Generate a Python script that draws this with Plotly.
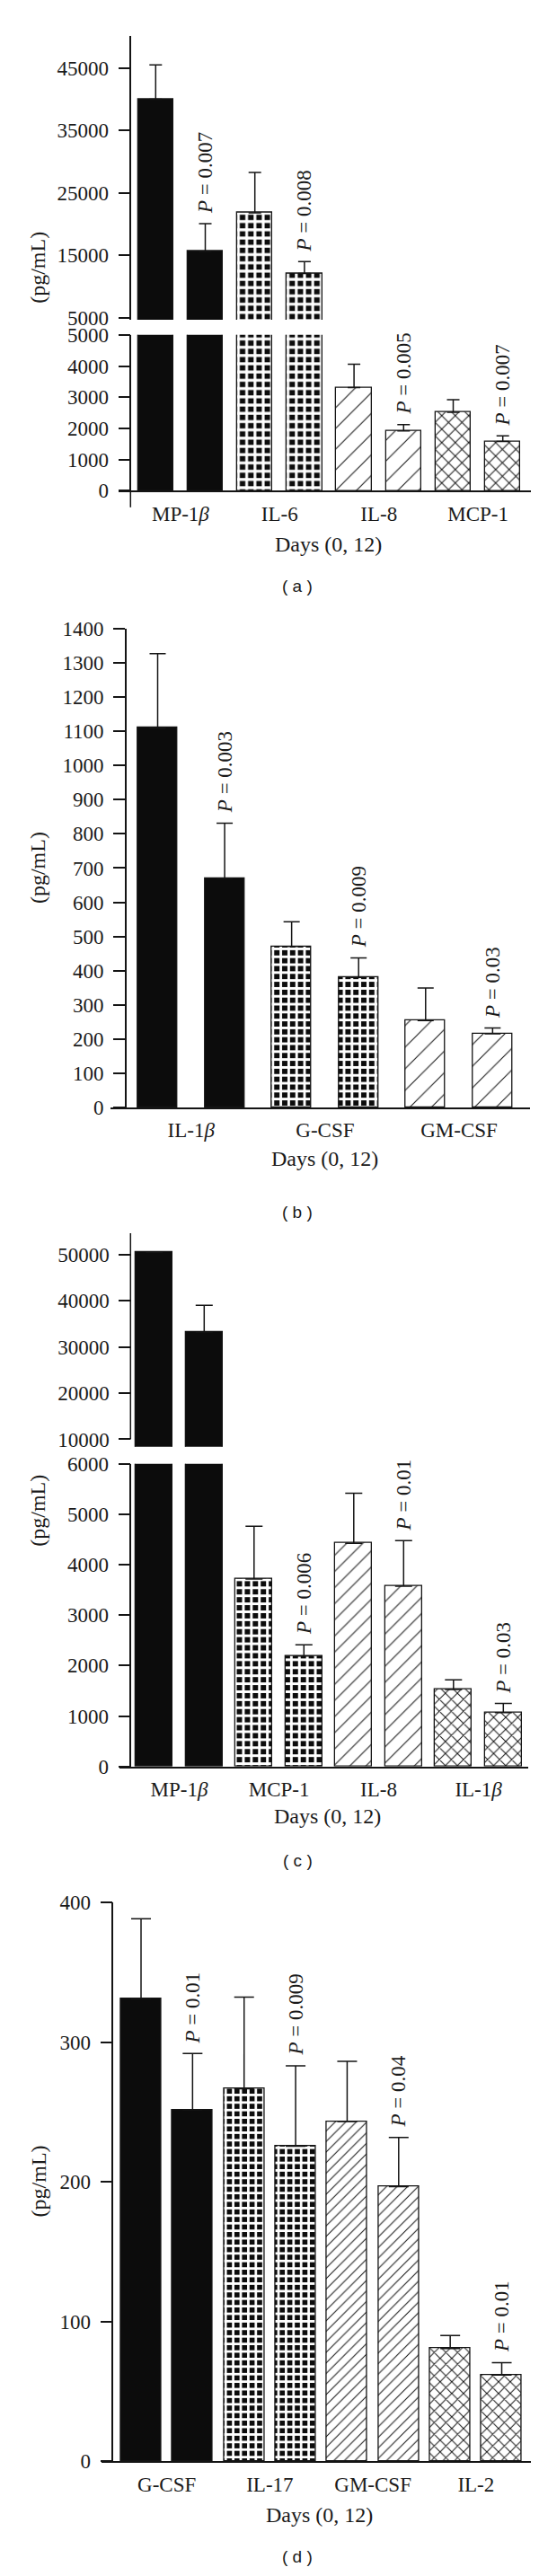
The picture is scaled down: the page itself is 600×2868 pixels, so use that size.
import plotly.graph_objects as go

W, H = 600, 2868
SERIF = "Liberation Serif"
SANS = "Liberation Sans"
INK = "#141414"

# ---------------- data ----------------
# panel (a)
a_labels = ["MP-1<i>β</i>", "IL-6", "IL-8", "MCP-1"]
a_day0 = [40000, 21800, 3310, 2520]
a_day0_sd = [5480, 6480, 750, 400]
a_day12 = [15630, 12110, 1920, 1580]
a_day12_sd = [4450, 1920, 200, 180]
a_p = ["0.007", "0.008", "0.005", "0.007"]

# panel (b)
b_labels = ["IL-1<i>β</i>", "G-CSF", "GM-CSF"]
b_day0 = [1110, 471, 254]
b_day0_sd = [217, 72, 95]
b_day12 = [670, 380, 215]
b_day12_sd = [161, 57, 17]
b_p = ["0.003", "0.009", "0.03"]

# panel (c)
c_labels = ["MP-1<i>β</i>", "MCP-1", "IL-8", "IL-1<i>β</i>"]
c_day0 = [50500, 3716, 4426, 1527]
c_day0_sd = [0, 1048, 993, 189]
c_day12 = [33250, 2189, 3574, 1068]
c_day12_sd = [5790, 223, 906, 182]
c_p = [None, "0.006", "0.01", "0.03"]

# panel (d)
d_labels = ["G-CSF", "IL-17", "GM-CSF", "IL-2"]
d_day0 = [331, 266.7, 243.3, 80.8]
d_day0_sd = [57.5, 65.6, 43.1, 9.2]
d_day12 = [251.6, 225.6, 196.7, 61.7]
d_day12_sd = [40.4, 57.5, 35.2, 8.9]
d_p = ["0.01", "0.009", "0.04", "0.01"]

x_title = "Days (0, 12)"
y_title = "(pg/mL)"


def py(p):
    return 1 - p / H


def px(p):
    return p / W


BLACK = dict(color="#0c0c0c", shape="", fg="#0c0c0c", size=8, sol=0.3)


def grid(size, sol):
    return dict(color="#0c0c0c", shape="+", fg="white", size=size, sol=sol)


def hatch(shape, size, sol):
    return dict(color="white", shape=shape, fg="#111111", size=size, sol=sol)


panels = [
    dict(name="( a )", labels=a_labels, d0=a_day0, s0=a_day0_sd, d12=a_day12, s12=a_day12_sd, p=a_p,
         fills=[BLACK, grid(9.2, 0.55), hatch("/", 16.3, 0.065), hatch("x", 10.6, 0.18)],
         L=124, R=582.7, yx=137.3, c0=165.3, step=55.2, bw=0.716, cap=7,
         lower=dict(dom=(355.9, 531.0), rng=(0, 5000), ticks=[0, 1000, 2000, 3000, 4000, 5000]),
         upper=dict(dom=(19.8, 338.9), rng=(4715, 50171), ticks=[5000, 15000, 25000, 35000, 45000]),
         ext=549.6, upline=None, ytitle=280.7, xtitle=(357.5, 591), cap_y=638),
    dict(name="( b )", labels=b_labels, d0=b_day0, s0=b_day0_sd, d12=b_day12, s12=b_day12_sd, p=b_p,
         fills=[BLACK, grid(8.8, 0.54), hatch("/", 17, 0.06)],
         L=115.4, R=582, yx=131.9, c0=167.5, step=74.57, bw=0.59, cap=9,
         lower=dict(dom=(686, 1223.6), rng=(0, 1400), ticks=list(range(0, 1401, 100))),
         upper=None, ext=None, upline=None, ytitle=954.8, xtitle=(353, 1281), cap_y=1341),
    dict(name="( c )", labels=c_labels, d0=c_day0, s0=c_day0_sd, d12=c_day12, s12=c_day12_sd, p=c_p,
         fills=[BLACK, grid(8.9, 0.55), hatch("/", 12.7, 0.08), hatch("x", 9.5, 0.2)],
         L=125, R=580, yx=137.3, c0=163.8, step=55.5, bw=0.74, cap=9.5,
         lower=dict(dom=(1624, 1963.8), rng=(0, 6000), ticks=[0, 1000, 2000, 3000, 4000, 5000, 6000]),
         upper=dict(dom=(1365, 1604.8), rng=(8380, 54630), ticks=[10000, 20000, 30000, 40000, 50000]),
         ext=None, upline=10000, ytitle=1676.8, xtitle=(356.3, 2019.5), cap_y=2070),
    dict(name="( d )", labels=d_labels, d0=d_day0, s0=d_day0_sd, d12=d_day12, s12=d_day12_sd, p=d_p,
         fills=[BLACK, grid(8.4, 0.54), hatch("/", 8.3, 0.12), hatch("x", 9.2, 0.2)],
         L=104.6, R=582.7, yx=117.3, c0=149, step=57.36, bw=0.785, cap=11,
         lower=dict(dom=(2116.7, 2744.2), rng=(0, 400), ticks=[0, 100, 200, 300, 400]),
         upper=None, ext=None, upline=None, ytitle=2430, xtitle=(347, 2804), cap_y=2851),
]

fig = go.Figure()
layout = dict(width=W, height=H, margin=dict(l=0, r=0, t=0, b=0), autosize=False,
              paper_bgcolor="white", plot_bgcolor="rgba(0,0,0,0)", showlegend=False,
              bargap=0, barmode="overlay")
annotations = []
shapes = []

tickfont = dict(family=SERIF, size=23, color="#1a1a1a")

yi = 0
for pi, P in enumerate(panels):
    xn = "" if pi == 0 else str(pi + 1)
    xname = "xaxis" + xn
    xref = "x" + xn
    n = len(P["labels"])
    r0 = (P["L"] - P["c0"]) / P["step"]
    r1 = (P["R"] - P["c0"]) / P["step"]

    segs = [P["lower"]] + ([P["upper"]] if P["upper"] else [])
    yrefs = []
    for si, seg in enumerate(segs):
        yi += 1
        yn = "" if yi == 1 else str(yi)
        yname = "yaxis" + yn
        yref = "y" + yn
        yrefs.append(yref)
        top, bot = seg["dom"]
        show_line = True
        if si == 1 and P["upline"] is not None:
            show_line = False
        layout[yname] = dict(domain=[py(bot), py(top)], range=list(seg["rng"]), anchor="free",
                             position=px(P["yx"]), tickmode="array", tickvals=seg["ticks"],
                             ticktext=[str(t) for t in seg["ticks"]], ticks="outside", ticklen=13,
                             tickwidth=1.5, tickcolor=INK, showline=show_line, linecolor=INK,
                             linewidth=1.5, showgrid=False, zeroline=False, tickfont=tickfont,
                             ticklabelstandoff=6, fixedrange=True)
        if si == 1 and P["upline"] is not None:
            shapes.append(dict(type="line", xref="paper", yref=yref, x0=px(P["yx"]), x1=px(P["yx"]),
                               y0=P["upline"], y1=seg["rng"][1], line=dict(color=INK, width=1.5)))
        # bars for each group
        for g in range(n):
            f = P["fills"][g]
            xs = [2 * g, 2 * g + 1]
            ys = [P["d0"][g], P["d12"][g]]
            es = [P["s0"][g], P["s12"][g]]
            marker = dict(color=f["color"], line=dict(color=INK, width=1.3))
            if f["shape"]:
                marker["pattern"] = dict(shape=f["shape"], fillmode="overlay", fgcolor=f["fg"],
                                         fgopacity=1, size=f["size"], solidity=f["sol"])
            fig.add_trace(go.Bar(x=xs, y=ys, width=P["bw"], marker=marker, xaxis=xref, yaxis=yref,
                                 error_y=dict(type="data", symmetric=False, array=es, arrayminus=[0, 0],
                                              color=INK, thickness=1.5, width=P["cap"]),
                                 hoverinfo="skip"))
    layout[xname] = dict(domain=[px(P["L"]), px(P["R"])], range=[r0, r1], anchor=yrefs[0],
                         tickmode="array", tickvals=[2 * g + 0.5 for g in range(n)], ticktext=P["labels"],
                         ticks="", showline=True, linecolor=INK, linewidth=1.5, showgrid=False,
                         zeroline=False, tickfont=tickfont, ticklabelstandoff=4, fixedrange=True)

    # p-value labels
    lo_max = P["lower"]["rng"][1]
    for g in range(n):
        if P["p"][g] is None:
            continue
        topv = P["d12"][g] + P["s12"][g]
        yr = yrefs[1] if (P["upper"] and topv > lo_max) else yrefs[0]
        annotations.append(dict(x=2 * g + 1, y=topv, xref=xref, yref=yr, text="<i>P</i> = " + P["p"][g],
                                textangle=-90, showarrow=False, xanchor="center", yanchor="bottom",
                                yshift=9, font=dict(family=SERIF, size=23, color="#1a1a1a")))
    # axis titles and caption
    annotations.append(dict(x=px(34.6), y=py(P["ytitle"]), xref="paper", yref="paper", text=y_title,
                            textangle=-90, showarrow=False, xanchor="center", yanchor="middle",
                            font=dict(family=SERIF, size=24, color="#1a1a1a")))
    annotations.append(dict(x=px(P["xtitle"][0]), y=py(P["xtitle"][1]), xref="paper", yref="paper",
                            text=x_title, showarrow=False, xanchor="center", yanchor="middle",
                            font=dict(family=SERIF, size=24, color="#1a1a1a")))
    annotations.append(dict(x=px(323), y=py(P["cap_y"]), xref="paper", yref="paper", text=P["name"],
                            showarrow=False, xanchor="center", yanchor="middle",
                            font=dict(family=SANS, size=19, color="#1a1a1a")))
    if P["ext"]:
        shapes.append(dict(type="line", xref="paper", yref="paper", x0=px(P["yx"]), x1=px(P["yx"]),
                           y0=py(P["lower"]["dom"][1]), y1=py(P["ext"]), line=dict(color=INK, width=1.5)))

layout["annotations"] = annotations
layout["shapes"] = shapes
fig.update_layout(**layout)
fig.write_html("out.html")
